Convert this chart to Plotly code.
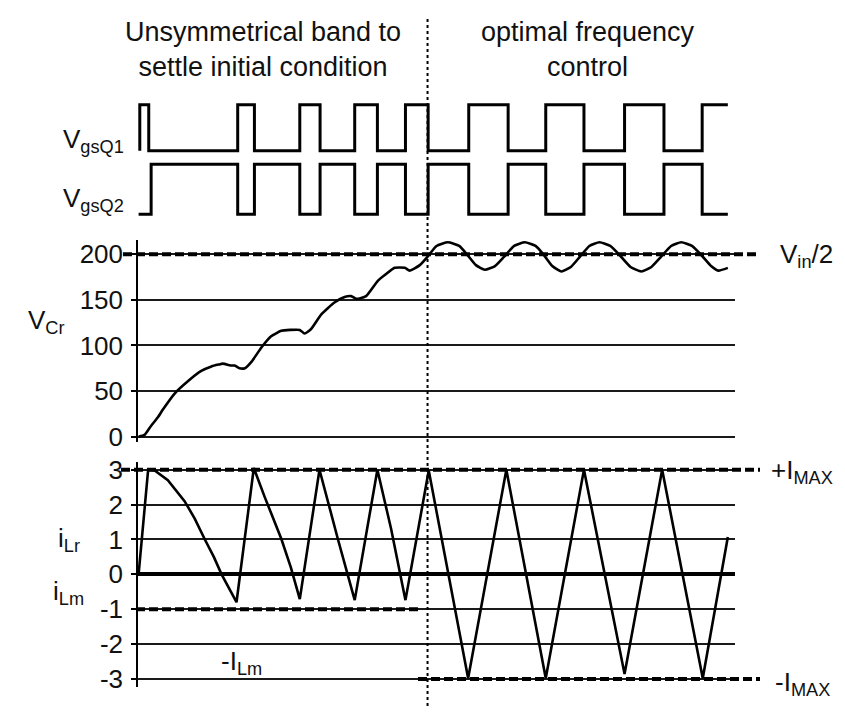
import plotly.graph_objects as go

# ---------------- data ----------------
# gate signals (time in arbitrary units 0..100, level 0/1)
t_q1 = [0.3, 0.3, 1.8, 16.7, 19.5, 27.1, 30.5, 36.3, 40.1, 44.8, 48.6,
        55.4, 62.0, 68.3, 74.7, 81.5, 88.1, 94.5, 98.8]
v_q1 = [0, 1, 0, 1, 0, 1, 0, 1, 0, 1, 0, 1, 0, 1, 0, 1, 0, 1, 1]

t_q2 = [0.1, 2.2, 16.7, 19.5, 27.1, 30.5, 36.3, 40.1, 44.8, 48.6,
        55.4, 62.0, 68.3, 74.7, 81.5, 88.1, 94.5, 98.8]
v_q2 = [0, 1, 0, 1, 0, 1, 0, 1, 0, 1, 0, 1, 0, 1, 0, 1, 0, 0]

# resonant capacitor voltage V_Cr
t_vcr = [0.1, 1.1, 2.2, 3.3, 4.2, 6.1, 8.4, 10.6, 12.3, 13.5, 14.2, 15.5, 16.2,
         17.0, 17.9, 19.0, 20.7, 22.3, 24.0, 25.5, 27.1, 27.9, 29.0, 30.7, 32.9,
         34.6, 35.7, 36.6, 38.2, 40.2, 41.5, 43.0, 44.7, 45.5, 47.2, 48.6, 50.0,
         51.9, 53.8, 55.2, 56.6, 58.1, 59.8, 61.3, 63.0, 64.8, 66.6, 68.0, 69.4,
         70.9, 72.5, 74.0, 75.6, 77.3, 79.1, 80.8, 82.5, 84.3, 86.0, 87.6, 89.3,
         91.0, 92.8, 94.5, 96.0, 97.2, 98.8]
v_vcr = [0, 2, 12, 21, 30, 47, 61, 72, 77, 79, 80, 78, 78,
         75, 75, 82, 98, 110, 116, 117, 117, 113, 118, 134, 147,
         153, 154, 151, 154, 171, 178, 185, 185, 182, 188, 198, 209,
         213, 209, 199, 188, 183, 187, 197, 209, 213, 209, 199, 187,
         181, 186, 197, 209, 213, 209, 198, 186, 181, 186, 197, 209,
         213, 209, 198, 187, 182, 185]

# resonant inductor current i_Lr
t_ilr = [0.1, 0.6, 1.7, 2.8, 5.0, 7.8, 9.5, 11.2, 12.7, 14.0, 16.5,
         19.4, 21.2, 24.0, 25.6, 27.1,
         30.4, 33.5, 36.3,
         40.1, 42.4, 44.8,
         48.7, 55.3, 61.7, 68.3, 74.7, 81.5, 87.8, 94.6, 98.8]
i_ilr = [0, 1.0, 3.0, 2.98, 2.7, 2.1, 1.6, 1.0, 0.5, 0.0, -0.8,
         3.05, 2.23, 1.02, 0.2, -0.71,
         3.0, 1.0, -0.74,
         3.0, 1.3, -0.74,
         2.98, -2.98, 3.0, -2.98, 3.0, -2.86, 3.0, -2.98, 1.07]

vcr_ticks = [0, 50, 100, 150, 200]
ilr_ticks = [-3, -2, -1, 0, 1, 2, 3]
ilr_ticktext = ["-3", "-2", "-1", "0", "1", "2", "3"]
v_half = 200      # V_in/2
i_max = 3         # I_MAX
i_lm = -1         # -I_Lm
t_switch = 48.5   # change of control mode

# ---------------- layout helpers ----------------
W, H = 845, 713
FONT = "Liberation Sans, Arial, sans-serif"
FS = 26


def px(x):
    return x / W


def py(y):
    return 1 - y / H


def ydom(p_lo, p_hi):
    return [py(p_lo), py(p_hi)]


fig = go.Figure()
fig.add_trace(go.Scatter(x=t_q1, y=v_q1, mode="lines", xaxis="x", yaxis="y",
                         line=dict(color="black", width=3, shape="hv")))
fig.add_trace(go.Scatter(x=t_q2, y=v_q2, mode="lines", xaxis="x", yaxis="y2",
                         line=dict(color="black", width=3, shape="hv")))
fig.add_trace(go.Scatter(x=t_vcr, y=v_vcr, mode="lines", xaxis="x", yaxis="y3",
                         line=dict(color="black", width=2.6, shape="spline", smoothing=0.5)))
fig.add_trace(go.Scatter(x=t_ilr, y=i_ilr, mode="lines", xaxis="x", yaxis="y4",
                         line=dict(color="black", width=2.6)))

axis_common = dict(
    showline=True, linecolor="black", linewidth=1.5,
    ticks="outside", ticklen=5, tickcolor="black", tickwidth=1.5,
    showgrid=True, gridcolor="#1a1a1a", gridwidth=1.5,
    tickfont=dict(family=FONT, size=FS, color="#111"),
    anchor="x", ticklabelstandoff=3,
)

fig.update_layout(
    width=W, height=H,
    margin=dict(l=0, r=0, t=0, b=0),
    paper_bgcolor="white", plot_bgcolor="white",
    showlegend=False,
    xaxis=dict(domain=[px(130), px(727)], range=[0, 100], visible=False,
               anchor="y3"),
    yaxis=dict(domain=ydom(143.7, 87.3), range=[-0.1, 1.1], visible=False, anchor="x"),
    yaxis2=dict(domain=ydom(209.1, 147.9), range=[-0.1, 1.1], visible=False, anchor="x"),
    yaxis3=dict(domain=ydom(437.1, 231.0), range=[-5.5, 215], tickvals=vcr_ticks,
                zeroline=False, **axis_common),
    yaxis4=dict(domain=ydom(688, 458), range=[-3.22, 3.22], tickvals=ilr_ticks,
                ticktext=ilr_ticktext,
                zeroline=True, zerolinecolor="black", zerolinewidth=3.5, **axis_common),
)

dash = "9px,4px"
dl = dict(color="black", width=4, dash=dash)
shapes = [
    dict(type="line", xref="paper", yref="y3", x0=px(115), x1=px(752), y0=v_half, y1=v_half, line=dl),
    dict(type="line", xref="paper", yref="y4", x0=px(113), x1=px(752), y0=i_max, y1=i_max, line=dl),
    dict(type="line", xref="paper", yref="y4", x0=px(128), x1=px(410), y0=i_lm, y1=i_lm, line=dl),
    dict(type="line", xref="paper", yref="y4", x0=px(410), x1=px(752), y0=-i_max, y1=-i_max, line=dl),
    dict(type="line", xref="x", yref="paper", x0=t_switch, x1=t_switch, y0=py(708), y1=py(3),
         line=dict(color="black", width=2, dash="dot")),
]
fig.update_layout(shapes=shapes)

tf = dict(family=FONT, size=FS, color="#111")
ann = [
    dict(text="Unsymmetrical band to<br>settle initial condition", x=px(255), y=py(35),
         xanchor="center", yanchor="middle", font=dict(family=FONT, size=27, color="#111")),
    dict(text="optimal frequency<br>control", x=px(580), y=py(35),
         xanchor="center", yanchor="middle", font=dict(family=FONT, size=27, color="#111")),
    dict(text="V<sub>gsQ1</sub>", x=px(118), y=py(129), xanchor="right", yanchor="middle"),
    dict(text="V<sub>gsQ2</sub>", x=px(118), y=py(189), xanchor="right", yanchor="middle"),
    dict(text="V<sub>Cr</sub>", x=px(18), y=py(314), xanchor="left", yanchor="middle"),
    dict(text="i<sub>Lr</sub>", x=px(48), y=py(537), xanchor="left", yanchor="middle"),
    dict(text="i<sub>Lm</sub>", x=px(43), y=py(592), xanchor="left", yanchor="middle"),
    dict(text="-I<sub>Lm</sub>", x=px(211), y=py(663), xanchor="left", yanchor="middle"),
    dict(text="V<sub>in</sub>/2", x=px(770), y=py(246), xanchor="left", yanchor="middle"),
    dict(text="+I<sub>MAX</sub>", x=px(761), y=py(468), xanchor="left", yanchor="middle"),
    dict(text="-I<sub>MAX</sub>", x=px(765), y=py(685), xanchor="left", yanchor="middle"),
]
for a in ann:
    a.setdefault("font", tf)
    a.update(xref="paper", yref="paper", showarrow=False)
fig.update_layout(annotations=ann)

fig.write_html("out.html")
